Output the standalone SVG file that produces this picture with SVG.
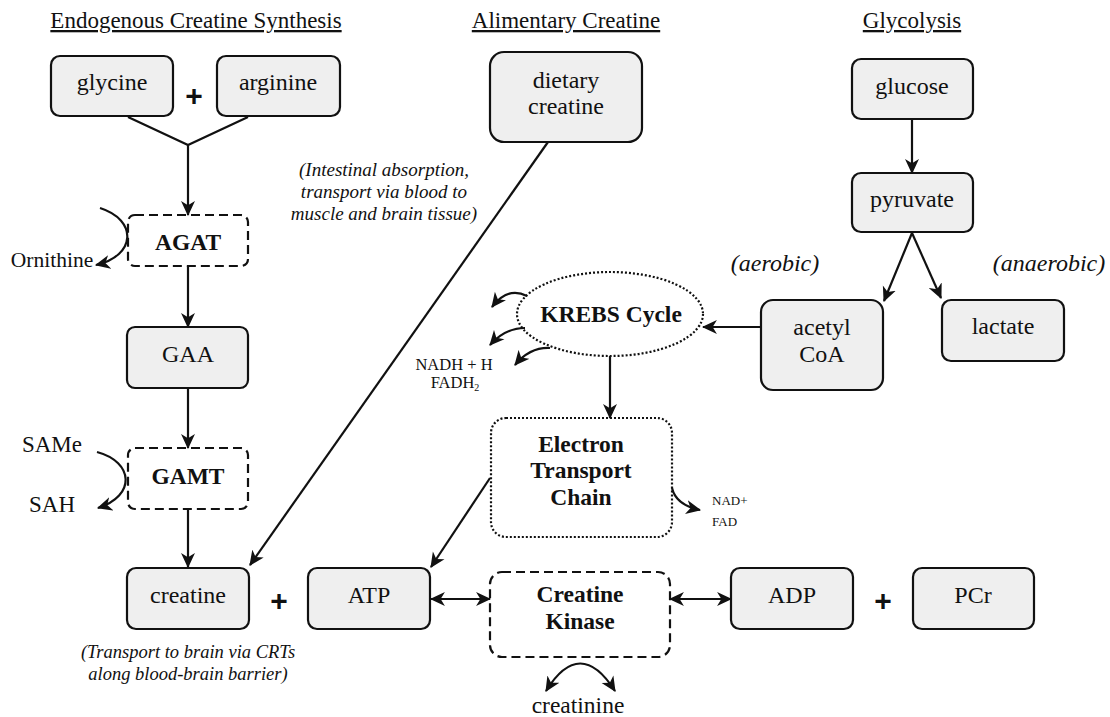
<svg xmlns="http://www.w3.org/2000/svg" width="1110" height="717" viewBox="0 0 1110 717">
<style>
text{font-family:"Liberation Serif","Times New Roman",serif;fill:#111}
.t{font-size:24px;text-anchor:middle}
.title{font-size:23px;text-anchor:middle;text-decoration:underline}
.b{font-size:23.5px;font-weight:bold;text-anchor:middle}
.i{font-style:italic;text-anchor:middle}
.plus{font-family:"Liberation Sans",Arial,sans-serif;font-size:30px;font-weight:bold;text-anchor:middle}
.box{fill:#efefef;stroke:#111;stroke-width:2.2}
.dash{fill:#fff;stroke:#111;stroke-width:2.2;stroke-dasharray:9 5}
.dot{fill:#fff;stroke:#111;stroke-width:2.2;stroke-dasharray:2 2}
.c line,.c path{stroke:#111;stroke-width:2.2;fill:none}
.a{marker-end:url(#ah)}
.aa{marker-start:url(#ah);marker-end:url(#ah)}
</style>
<defs>
<marker id="ah" markerUnits="userSpaceOnUse" viewBox="0 0 14 14" markerWidth="15" markerHeight="15" refX="13" refY="7" orient="auto-start-reverse">
<path d="M0,0.5 L14,7 L0,13.5 L4,7 z" fill="#111"/>
</marker>
</defs>
<g id="titles">
<text class="title" x="196" y="28">Endogenous Creatine Synthesis</text>
<text class="title" x="566" y="28">Alimentary Creatine</text>
<text class="title" x="912" y="28">Glycolysis</text>
</g>
<g id="glycine"><rect class="box" x="51" y="56" width="122" height="60" rx="9"/><text class="t" x="112" y="90">glycine</text></g>
<g id="plus1"><text class="plus" x="194" y="106">+</text></g>
<g id="arginine"><rect class="box" x="217" y="56" width="123" height="60" rx="9"/><text class="t" x="278" y="90">arginine</text></g>
<g id="agat"><rect class="dash" x="128" y="215" width="120" height="51" rx="7"/><text class="b" x="188" y="250">AGAT</text></g>
<g id="ornithine"><text class="t" x="52" y="267" style="font-size:21.5px">Ornithine</text></g>
<g id="gaa"><rect class="box" x="127" y="327" width="121" height="61" rx="8"/><text class="t" x="188" y="362">GAA</text></g>
<g id="gamt"><rect class="dash" x="128" y="448" width="120" height="61" rx="7"/><text class="b" x="188" y="484">GAMT</text></g>
<g id="same"><text class="t" x="52" y="452" style="font-size:23px">SAMe</text></g>
<g id="sah"><text class="t" x="52" y="512" style="font-size:23px">SAH</text></g>
<g id="creatine"><rect class="box" x="127" y="568" width="122" height="61" rx="9"/><text class="t" x="188" y="603">creatine</text></g>
<g id="plus2"><text class="plus" x="279" y="611">+</text></g>
<g id="crt-note"><text class="i" x="188" y="658" style="font-size:18.5px">(Transport to brain via CRTs</text><text class="i" x="188" y="680" style="font-size:18.5px">along blood-brain barrier)</text></g>
<g id="atp"><rect class="box" x="308" y="568" width="122" height="61" rx="9"/><text class="t" x="369" y="603">ATP</text></g>
<g id="dietary"><rect class="box" x="490" y="52" width="152" height="90" rx="14"/><text class="t" x="566" y="88">dietary</text><text class="t" x="566" y="114">creatine</text></g>
<g id="absorption-note"><text class="i" x="384" y="176" style="font-size:19px">(Intestinal absorption,</text><text class="i" x="384" y="198" style="font-size:19px">transport via blood to</text><text class="i" x="384" y="220" style="font-size:19px">muscle and brain tissue)</text></g>
<g id="glucose"><rect class="box" x="852" y="59" width="121" height="60" rx="9"/><text class="t" x="912" y="94">glucose</text></g>
<g id="pyruvate"><rect class="box" x="852" y="173" width="121" height="59" rx="9"/><text class="t" x="912" y="207">pyruvate</text></g>
<g id="aerobic"><text class="i" x="775" y="271" style="font-size:24px">(aerobic)</text></g>
<g id="anaerobic"><text class="i" x="1049" y="271" style="font-size:24px">(anaerobic)</text></g>
<g id="acetylcoa"><rect class="box" x="761" y="300" width="122" height="90" rx="12"/><text class="t" x="822" y="335">acetyl</text><text class="t" x="822" y="362">CoA</text></g>
<g id="lactate"><rect class="box" x="942" y="300" width="122" height="61" rx="9"/><text class="t" x="1003" y="334">lactate</text></g>
<g id="krebs"><ellipse class="dot" cx="610" cy="314" rx="93" ry="42"/><text class="b" x="611" y="322">KREBS Cycle</text></g>
<g id="nadh"><text class="t" x="454" y="370" style="font-size:16.5px">NADH + H</text><text class="t" x="455" y="388" style="font-size:16.5px">FADH<tspan font-size="10" dy="3">2</tspan></text></g>
<g id="etc"><rect class="dot" x="491" y="418" width="181" height="119" rx="15"/><text class="b" x="581" y="452">Electron</text><text class="b" x="581" y="478">Transport</text><text class="b" x="581" y="505">Chain</text></g>
<g id="nad"><text x="712" y="505" style="font-size:13px">NAD+</text><text x="712" y="526" style="font-size:13px">FAD</text></g>
<g id="ck"><rect class="dash" x="490" y="572" width="180" height="85" rx="12"/><text class="b" x="580" y="602">Creatine</text><text class="b" x="580" y="629">Kinase</text></g>
<g id="adp"><rect class="box" x="731" y="568" width="122" height="61" rx="9"/><text class="t" x="792" y="603">ADP</text></g>
<g id="plus3"><text class="plus" x="883" y="611">+</text></g>
<g id="pcr"><rect class="box" x="913" y="568" width="121" height="61" rx="9"/><text class="t" x="973" y="603">PCr</text></g>
<g id="creatinine"><text class="t" x="578" y="713" style="font-size:23.5px">creatinine</text></g>
<g id="connectors" class="c">
<path d="M128,117 L188,145 L248,117"/>
<line class="a" x1="188" y1="145" x2="188" y2="215"/>
<path class="a" d="M100,208 C138,220 136,256 96,265"/>
<line class="a" x1="188" y1="266" x2="188" y2="327"/>
<line class="a" x1="188" y1="388" x2="188" y2="448"/>
<path class="a" d="M97,452 C134,462 136,496 98,508"/>
<line class="a" x1="188" y1="509" x2="188" y2="567"/>
<line class="a" x1="548" y1="142" x2="250" y2="565"/>
<line class="a" x1="912" y1="119" x2="912" y2="173"/>
<line class="a" x1="912" y1="233" x2="884" y2="301"/>
<line class="a" x1="912" y1="233" x2="941" y2="298"/>
<line class="a" x1="761" y1="327" x2="703" y2="327"/>
<path class="a" d="M527,296 Q508,286 492,307"/>
<path class="a" d="M525,328 Q505,328 490,345"/>
<path class="a" d="M550,348 Q530,347 515,365"/>
<line class="a" x1="610" y1="356" x2="610" y2="418"/>
<path class="a" d="M672,488 Q676,505 700,510"/>
<line class="a" x1="490" y1="478" x2="431" y2="567"/>
<line class="aa" x1="431" y1="599" x2="490" y2="599"/>
<line class="aa" x1="670" y1="599" x2="731" y2="599"/>
<path class="aa" d="M546,691 Q580,636 615,691"/>
</g>
</svg>
